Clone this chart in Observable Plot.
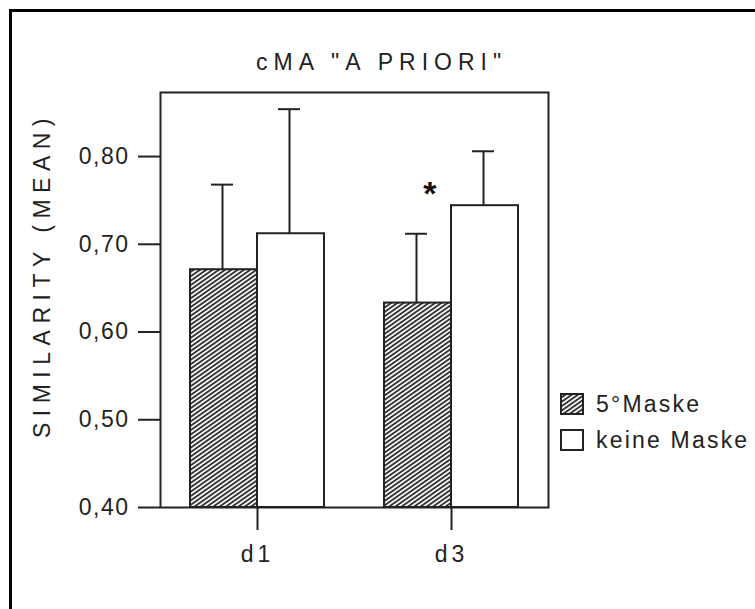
<!DOCTYPE html>
<html>
<head>
<meta charset="utf-8">
<script src="https://cdn.jsdelivr.net/npm/d3@7"></script>
<script src="https://cdn.jsdelivr.net/npm/@observablehq/plot@0.6"></script>
<style>
  html, body { margin: 0; padding: 0; background: #fff; overflow: hidden; }
  #wrap { position: relative; width: 755px; height: 609px; overflow: hidden; font-family: "Liberation Sans", Arial, sans-serif; color: #222; }
  #outer { position: absolute; left: 9px; top: 9px; width: 800px; height: 700px; border-left: 3px solid #000; border-top: 3px solid #000; box-sizing: border-box; }
  #chart { position: absolute; left: 0; top: 0; }
  #title { position: absolute; left: 256px; top: 48px; font-size: 23px; letter-spacing: 6px; white-space: nowrap; line-height: 28px; }
  #ylabel { position: absolute; left: 41.5px; top: 275px; font-size: 23px; letter-spacing: 6.5px; white-space: nowrap; line-height: 26px; transform: translate(-50%, -50%) rotate(-90deg); }
  .leg { position: absolute; left: 560px; font-size: 23px; letter-spacing: 2.2px; white-space: nowrap; line-height: 24px; display: flex; align-items: center; }
  .leg svg { margin-right: 12px; display: block; }
  #chart svg text { letter-spacing: 1.5px; }
  #chart g[aria-label="x-axis tick label"] text { letter-spacing: 4px; }
</style>
</head>
<body>
<div id="wrap">
  <div id="outer"></div>
  <div id="chart"></div>
  <div id="title"></div>
  <div id="ylabel"></div>
  <div id="legend"></div>
</div>
<script>
// ---- data ----
const groups = ["d1", "d3"];
const series = ["5°Maske", "keine Maske"];
const means5 = [0.671, 0.633];
const upper5 = [0.768, 0.712];
const meansKeine = [0.712, 0.744];
const upperKeine = [0.854, 0.806];
const yTicks = [0.40, 0.50, 0.60, 0.70, 0.80];
const yDomain = [0.40, 0.873];
const sigGroups = ["d3"];
const sigValues = [0.767];
const titleText = 'cMA "A PRIORI"';
const yLabelText = "SIMILARITY (MEAN)";

const rows5 = groups.map((g, i) => ({group: g, series: series[0], mean: means5[i], upper: upper5[i]}));
const rowsK = groups.map((g, i) => ({group: g, series: series[1], mean: meansKeine[i], upper: upperKeine[i]}));
const sig = sigGroups.map((g, i) => ({group: g, value: sigValues[i]}));

const ink = "#222";
const fmt = d => d.toFixed(2).replace(".", ",");

const svg = Plot.plot({
  width: 755,
  height: 609,
  marginLeft: 160,
  marginRight: 207,
  marginTop: 92,
  marginBottom: 102,
  style: {fontFamily: '"Liberation Sans", Arial, sans-serif', fontSize: "23px", color: ink, background: "transparent", overflow: "visible"},
  x: {type: "band", domain: groups, paddingInner: 0.31, paddingOuter: 0.155},
  y: {domain: yDomain},
  marks: [
    Plot.barY(rows5, {x: "group", y1: yDomain[0], y2: "mean", insetRight: 67, fill: "url(#hatch)", stroke: ink, strokeWidth: 2}),
    Plot.barY(rowsK, {x: "group", y1: yDomain[0], y2: "mean", insetLeft: 67, fill: "white", stroke: ink, strokeWidth: 2}),
    Plot.ruleX(rows5, {x: "group", y1: "mean", y2: "upper", dx: -35, stroke: ink, strokeWidth: 2}),
    Plot.ruleX(rowsK, {x: "group", y1: "mean", y2: "upper", dx: 32, stroke: ink, strokeWidth: 2}),
    Plot.tickY(rows5, {x: "group", y: "upper", insetLeft: 21, insetRight: 91, stroke: ink, strokeWidth: 2}),
    Plot.tickY(rowsK, {x: "group", y: "upper", insetLeft: 88, insetRight: 24, stroke: ink, strokeWidth: 2}),
    Plot.text(sig, {x: "group", y: "value", text: () => "*", dx: -21, dy: 9, fontSize: 34, fontWeight: "bold", fill: "#111"}),
    Plot.frame({stroke: ink, strokeWidth: 2}),
    Plot.axisY({ticks: yTicks, tickFormat: fmt, tickSize: 22, tickPadding: 9, label: null, stroke: ink, strokeWidth: 2, strokeOpacity: 1}),
    Plot.axisX({tickSize: 23, tickPadding: 15, label: null, stroke: ink, strokeWidth: 2, strokeOpacity: 1})
  ]
});

// hatch pattern
const ns = "http://www.w3.org/2000/svg";
const defs = document.createElementNS(ns, "defs");
defs.innerHTML = `<pattern id="hatch" patternUnits="userSpaceOnUse" width="3.6" height="3.6" patternTransform="rotate(-35)">
  <rect width="3.6" height="3.6" fill="white"/>
  <rect y="0" width="3.6" height="1.9" fill="#333"/>
</pattern>`;
svg.insertBefore(defs, svg.firstChild);
document.getElementById("chart").appendChild(svg);

document.getElementById("title").textContent = titleText;
document.getElementById("ylabel").textContent = yLabelText;

// legend
const legend = document.getElementById("legend");
const legTops = [392, 428];
series.forEach((s, i) => {
  const row = document.createElement("div");
  row.className = "leg";
  row.style.top = legTops[i] + "px";
  const fill = i === 0 ? "url(#hatchL)" : "white";
  row.innerHTML = `<svg width="24" height="22"><defs><pattern id="hatchL" patternUnits="userSpaceOnUse" width="3.6" height="3.6" patternTransform="rotate(-35)"><rect width="3.6" height="3.6" fill="white"/><rect width="3.6" height="1.9" fill="#333"/></pattern></defs><rect x="1" y="1" width="22" height="20" fill="${fill}" stroke="${ink}" stroke-width="2"/></svg><span></span>`;
  row.querySelector("span").textContent = s;
  legend.appendChild(row);
});
</script>
</body>
</html>
